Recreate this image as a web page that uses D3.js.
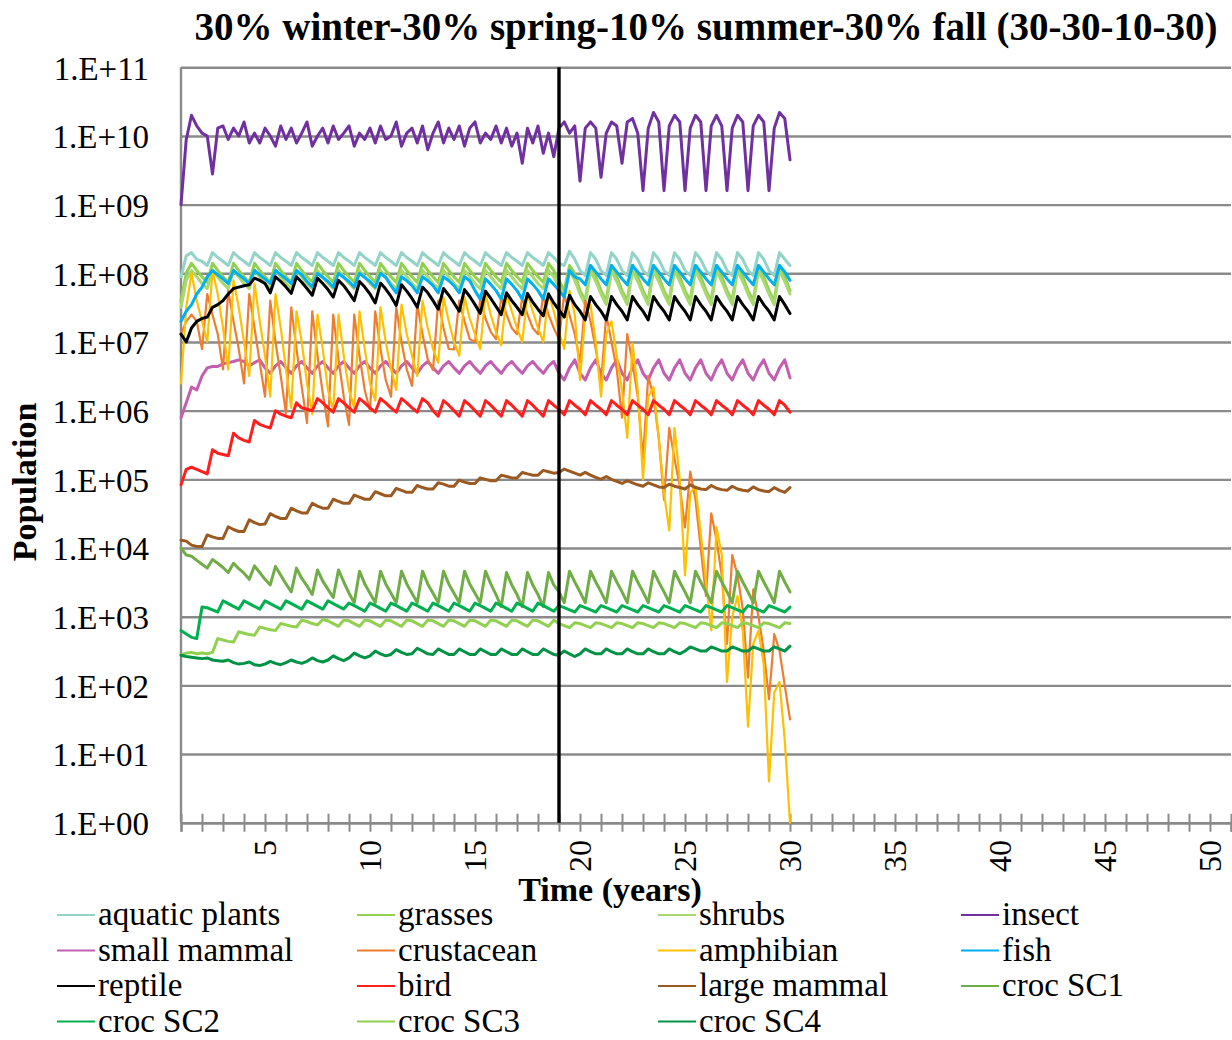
<!DOCTYPE html>
<html><head><meta charset="utf-8">
<script src="https://cdn.jsdelivr.net/npm/d3@7"></script>
<style>
body{margin:0;background:#fff}
svg{display:block}
text{font-family:"Liberation Serif","Times New Roman",serif;fill:#000}
</style>
</head><body>
<svg id="chart" width="1232" height="1040"></svg>
<script>
// ---- time points (years), quarterly ----
const years = [1,1.25,1.5,1.75,2,2.25,2.5,2.75,3,3.25,3.5,3.75,4,4.25,4.5,4.75,5,5.25,5.5,5.75,6,6.25,6.5,6.75,7,7.25,7.5,7.75,8,8.25,8.5,8.75,9,9.25,9.5,9.75,10,10.25,10.5,10.75,11,11.25,11.5,11.75,12,12.25,12.5,12.75,13,13.25,13.5,13.75,14,14.25,14.5,14.75,15,15.25,15.5,15.75,16,16.25,16.5,16.75,17,17.25,17.5,17.75,18,18.25,18.5,18.75,19,19.25,19.5,19.75,20,20.25,20.5,20.75,21,21.25,21.5,21.75,22,22.25,22.5,22.75,23,23.25,23.5,23.75,24,24.25,24.5,24.75,25,25.25,25.5,25.75,26,26.25,26.5,26.75,27,27.25,27.5,27.75,28,28.25,28.5,28.75,29,29.25,29.5,29.75,30];

const aquaticPlants = [8.9e7,1.8e8,2e8,1.6e8,
1.5e8,1.3e8,2e8,1.7e8, 1.5e8,1.3e8,2e8,1.7e8, 1.5e8,1.3e8,2e8,1.7e8, 1.5e8,1.3e8,2e8,1.7e8,
1.5e8,1.3e8,2e8,1.7e8, 1.5e8,1.3e8,2e8,1.7e8, 1.5e8,1.3e8,2e8,1.7e8, 1.5e8,1.3e8,2e8,1.7e8,
1.5e8,1.3e8,2e8,1.7e8, 1.5e8,1.3e8,2e8,1.7e8, 1.5e8,1.3e8,2e8,1.7e8, 1.5e8,1.3e8,2e8,1.7e8,
1.5e8,1.3e8,2e8,1.7e8, 1.5e8,1.3e8,2e8,1.7e8, 1.5e8,1.3e8,2e8,1.7e8, 1.5e8,1.3e8,2e8,1.7e8,
1.5e8,1.3e8,2e8,1.7e8, 1.4e8,1.3e8,2.1e8,1.6e8,
1.1e8,9.3e7,2e8,1.6e8, 1.1e8,9.3e7,2e8,1.6e8, 1.1e8,9.3e7,2e8,1.6e8, 1.1e8,9.3e7,2e8,1.6e8,
1.1e8,9.3e7,2e8,1.6e8, 1.1e8,9.3e7,2e8,1.6e8, 1.1e8,9.3e7,2e8,1.6e8, 1.1e8,9.3e7,2e8,1.6e8,
1.1e8,9.3e7,2e8,1.6e8, 1.1e8,9.3e7,2e8,1.6e8, 1.3e8];

const grasses = [4e7,1e8,1.4e8,1.1e8,
8.9e7,7.4e7,1.4e8,1.1e8, 8.9e7,7.4e7,1.4e8,1.1e8, 8.9e7,7.4e7,1.4e8,1.1e8, 8.9e7,7.4e7,1.4e8,1.1e8,
8.9e7,7.4e7,1.4e8,1.1e8, 8.9e7,7.4e7,1.4e8,1.1e8, 8.9e7,7.4e7,1.4e8,1.1e8, 8.9e7,7.4e7,1.4e8,1.1e8,
8.9e7,7.4e7,1.4e8,1.1e8, 8.9e7,7.4e7,1.4e8,1.1e8, 8.9e7,7.4e7,1.4e8,1.1e8, 8.9e7,7.4e7,1.4e8,1.1e8,
8.9e7,7.4e7,1.4e8,1.1e8, 8.9e7,7.4e7,1.4e8,1.1e8, 8.9e7,7.4e7,1.4e8,1.1e8, 8.9e7,7.4e7,1.4e8,1.1e8,
8.9e7,7.4e7,1.4e8,1.1e8, 7.9e7,5.6e7,1.3e8,1e8,
5.6e7,4e7,1.3e8,8.9e7, 5.6e7,4e7,1.3e8,8.9e7, 5.6e7,4e7,1.3e8,8.9e7, 5.6e7,4e7,1.3e8,8.9e7,
5.6e7,4e7,1.3e8,8.9e7, 5.6e7,4e7,1.3e8,8.9e7, 5.6e7,4e7,1.3e8,8.9e7, 5.6e7,4e7,1.3e8,8.9e7,
5.6e7,4e7,1.3e8,8.9e7, 5.6e7,4e7,1.3e8,8.9e7, 5.6e7];

const shrubs = [3.2e7,7.9e7,1.1e8,8.9e7,
7.1e7,6e7,1.1e8,8.9e7, 7.1e7,6e7,1.1e8,8.9e7, 7.1e7,6e7,1.1e8,8.9e7, 7.1e7,6e7,1.1e8,8.9e7,
7.1e7,6e7,1.1e8,8.9e7, 7.1e7,6e7,1.1e8,8.9e7, 7.1e7,6e7,1.1e8,8.9e7, 7.1e7,6e7,1.1e8,8.9e7,
7.1e7,6e7,1.1e8,8.9e7, 7.1e7,6e7,1.1e8,8.9e7, 7.1e7,6e7,1.1e8,8.9e7, 7.1e7,6e7,1.1e8,8.9e7,
7.1e7,6e7,1.1e8,8.9e7, 7.1e7,6e7,1.1e8,8.9e7, 7.1e7,6e7,1.1e8,8.9e7, 7.1e7,6e7,1.1e8,8.9e7,
7.1e7,6e7,1.1e8,8.9e7, 6.3e7,4.8e7,1.1e8,7.9e7,
5e7,3.5e7,1.1e8,7.6e7, 5e7,3.5e7,1.1e8,7.6e7, 5e7,3.5e7,1.1e8,7.6e7, 5e7,3.5e7,1.1e8,7.6e7,
5e7,3.5e7,1.1e8,7.6e7, 5e7,3.5e7,1.1e8,7.6e7, 5e7,3.5e7,1.1e8,7.6e7, 5e7,3.5e7,1.1e8,7.6e7,
5e7,3.5e7,1.1e8,7.6e7, 5e7,3.5e7,1.1e8,7.6e7, 5e7];

const insect = [1e9,8.9e9,2e10,1.4e10,
1.1e10,1e10,2.8e9,1.3e10, 1.4e10,8.9e9,1.3e10,1e10, 1.6e10,7.9e9,1.1e10,7.9e9, 1.3e10,1e10,7.1e9,1.4e10,
8.9e9,1.3e10,7.9e9,1.1e10, 1.6e10,7.1e9,1e10,1.3e10, 7.9e9,1.4e10,8.9e9,1.1e10, 1.4e10,7.1e9,1.1e10,8.9e9,
1.3e10,7.9e9,1.4e10,8.9e9, 1e10,1.6e10,7.1e9,1.1e10, 1.3e10,7.9e9,1.4e10,6.3e9, 1.1e10,1.6e10,7.9e9,1.3e10,
8.9e9,1.4e10,7.1e9,1.3e10, 1.6e10,7.9e9,1.1e10,8.9e9, 1.4e10,7.9e9,1.3e10,7.1e9, 1.1e10,4e9,1.3e10,7.9e9,
1.4e10,5.6e9,1.1e10,5e9, 1.3e10,1.6e10,1.1e10,1.4e10,
2.2e9,1.3e10,1.6e10,1.3e10, 2.5e9,1.1e10,1.6e10,1.4e10, 4e9,1.6e10,1.8e10,1.1e10, 1.6e9,1.3e10,2.2e10,1.6e10,
1.6e9,1.4e10,2e10,1.6e10, 1.6e9,1.3e10,2e10,1.6e10, 1.6e9,1.4e10,2e10,1.4e10, 1.6e9,1.3e10,2e10,1.6e10,
1.6e9,1.4e10,2e10,1.6e10, 1.6e9,1.3e10,2.2e10,1.8e10, 4.5e9];

const smallMammal = [7.9e5,1.3e6,2.2e6,2e6,
3.2e6,4.2e6,4.4e6,4.4e6, 4.8e6,5e6,5.2e6,5.5e6, 5.2e6,4.5e6,5e6,5.5e6, 4.2e6,3.5e6,4.5e6,5.2e6,
4.2e6,3.5e6,4.5e6,5.2e6, 4.2e6,3.5e6,4.5e6,5.2e6, 4.2e6,3.5e6,4.5e6,5.2e6, 4.2e6,3.5e6,4.5e6,5.2e6,
4.2e6,3.5e6,4.5e6,5.2e6, 4.2e6,3.5e6,4.5e6,5.2e6, 4.2e6,3.5e6,4.5e6,5.2e6, 4.2e6,3.5e6,4.5e6,5.2e6,
4.2e6,3.5e6,4.5e6,5.2e6, 4.2e6,3.5e6,4.5e6,5.2e6, 4.2e6,3.5e6,4.5e6,5.2e6, 4.2e6,3.5e6,4.5e6,5.2e6,
4.2e6,3.5e6,4.5e6,5.2e6, 3.5e6,2.8e6,4.2e6,5.5e6,
3.5e6,2.8e6,4.2e6,5.5e6, 3.5e6,2.8e6,4.2e6,5.5e6, 3.5e6,2.8e6,4.2e6,5.5e6, 3.5e6,2.8e6,4.2e6,5.5e6,
3.5e6,2.8e6,4.2e6,5.5e6, 3.5e6,2.8e6,4.2e6,5.5e6, 3.5e6,2.8e6,4.2e6,5.5e6, 3.5e6,2.8e6,4.2e6,5.5e6,
3.5e6,2.8e6,4.2e6,5.5e6, 3.5e6,2.8e6,4.2e6,5.5e6, 3e6];

const crustacean = [1.3e7,2e7,2.5e7,2e7,
7.9e6,5e7,2.5e7,1.3e7, 4e6,5.6e7,2e7,7.9e6, 2.5e6,5e7,1.6e7,5e6, 1.6e6,4e7,1e7,3.2e6,
9.1e5,3.2e7,7.9e6,2.2e6, 6.6e5,2.8e7,6.3e6,1.8e6, 5.9e5,2.5e7,5.6e6,1.6e6, 6.2e5,2.5e7,6.3e6,2e6,
1e6,2.8e7,7.9e6,2.8e6, 1.6e6,3.2e7,1e7,4e6, 2.3e6,3.5e7,1.3e7,5.6e6, 3.9e6,4e7,1.6e7,7.9e6,
7.8e6,4e7,2e7,1.1e7, 1e7,4.2e7,2.2e7,1.4e7, 1.1e7,4.5e7,2.5e7,1.6e7, 1.3e7,4.5e7,2.5e7,1.6e7,
1.3e7,4.8e7,2.5e7,1.6e7, 1.1e7,5e7,2.5e7,1.3e7,
5e6,4e7,2e7,7.9e6, 2.5e6,2.5e7,1e7,4e6, 7.9e5,1.3e7,5e6,1.6e6, 2e5,3.2e6,1.6e6,4e5,
5e4,5.6e5,2e5,7.9e4, 2e4,1.3e5,5e4,1e4, 2e3,3.2e4,1.3e4,4e3, 400,7.9e3,4e3,1.3e3,
130,2.5e3,1e3,320, 63,560,320,100, 32];

const amphibian = [2.5e6,3.2e7,1e8,4e7,
2e7,1e7,1.1e8,5e7, 1.6e7,4e6,7.9e7,3.2e7, 1e7,3.2e6,7.1e7,2e7, 6.3e6,1.6e6,5e7,1.6e7,
4e6,1.1e6,2.8e7,1e7, 2.5e6,8.9e5,2.5e7,7.9e6, 2e6,1e6,2.5e7,6.3e6, 2e6,1.1e6,2.8e7,7.9e6,
2.5e6,1.4e6,3.2e7,1e7, 4e6,2e6,3.5e7,1.3e7, 6.3e6,3.2e6,4e7,1.6e7, 7.9e6,5e6,4.5e7,2e7,
1e7,6.3e6,4.5e7,2.2e7, 1.3e7,7.9e6,5e7,2.5e7, 1.4e7,8.9e6,5e7,2.8e7, 1.6e7,1e7,5e7,2.8e7,
1.6e7,1e7,5.2e7,2.8e7, 1.4e7,7.9e6,5.6e7,2.5e7,
2.8e6,2.5e7,3.5e7,1e7, 1.6e6,1.3e7,2e7,6.3e6, 2e6,4e5,9.5e6,2e6, 1e5,1.6e6,2.2e6,4e5,
6.3e4,1.8e4,5.6e5,1e5, 4e3,6.3e4,7.9e4,1.6e4, 3.2e3,630,2e4,7.9e3, 112,1e3,2e3,630,
25,400,630,200, 4,79,112,16, 1];

const fish = [2e7,2.8e7,3.5e7,5e7,
6.3e7,8.9e7,1.1e8,9.5e7, 8.3e7,7.1e7,1.1e8,9.5e7, 8.3e7,7.1e7,1.1e8,9.5e7, 8.3e7,7.1e7,1.1e8,9.5e7,
8.3e7,7.1e7,1.1e8,9.5e7, 7.6e7,6.3e7,1e8,8.7e7, 7.6e7,6.3e7,1e8,8.7e7, 7.6e7,6.3e7,1e8,8.7e7,
7.6e7,6.3e7,1e8,8.7e7, 6.6e7,5.2e7,8.9e7,7.8e7, 6.6e7,5.2e7,8.9e7,7.8e7, 6.6e7,5.2e7,8.9e7,7.8e7,
6.6e7,5.2e7,8.9e7,7.8e7, 5.6e7,4.2e7,8.3e7,6.9e7, 5.6e7,4.2e7,8.3e7,6.9e7, 5.6e7,4.2e7,8.3e7,6.9e7,
5.6e7,4.2e7,8.3e7,6.9e7, 5.6e7,4.5e7,1.1e8,8.9e7,
8.3e7,6.8e7,1.3e8,1.05e8, 8.3e7,6.8e7,1.3e8,1.05e8, 8.3e7,6.8e7,1.3e8,1.05e8, 8.3e7,6.8e7,1.3e8,1.05e8,
8.3e7,6.8e7,1.3e8,1.05e8, 8.3e7,6.8e7,1.3e8,1.05e8, 8.3e7,6.8e7,1.3e8,1.05e8, 8.3e7,6.8e7,1.3e8,1.05e8,
8.3e7,6.8e7,1.3e8,1.05e8, 8.3e7,6.8e7,1.3e8,1.05e8, 7.9e7];

const reptile = [1.3e7,1e7,1.6e7,2e7,
2.2e7,2.3e7,3.2e7,3.5e7, 4e7,5e7,6e7,6.3e7, 6.6e7,6.8e7,8.5e7,7.9e7, 7.1e7,5.2e7,8.9e7,7.6e7,
6.3e7,5.1e7,8.9e7,7.4e7, 6e7,4.8e7,8.5e7,7.1e7, 5.8e7,4.5e7,7.9e7,6.6e7, 5.2e7,4e7,7.6e7,6.3e7,
5e7,3.7e7,7.2e7,5.9e7, 4.6e7,3.4e7,6.8e7,5.5e7, 4.3e7,3.2e7,6.3e7,5.2e7, 4e7,3e7,6e7,4.8e7,
3.7e7,2.8e7,5.8e7,4.6e7, 3.5e7,2.6e7,5.5e7,4.3e7, 3.3e7,2.5e7,5.2e7,4e7, 3.2e7,2.5e7,5.1e7,3.8e7,
3e7,2.4e7,5e7,3.7e7, 2.9e7,2.3e7,4.8e7,3.5e7,
2.8e7,2.1e7,4.6e7,3.5e7, 2.8e7,2.1e7,4.6e7,3.5e7, 2.8e7,2.1e7,4.6e7,3.5e7, 2.8e7,2.1e7,4.6e7,3.5e7,
2.8e7,2.1e7,4.6e7,3.5e7, 2.8e7,2.1e7,4.6e7,3.5e7, 2.8e7,2.1e7,4.6e7,3.5e7, 2.8e7,2.1e7,4.6e7,3.5e7,
2.8e7,2.1e7,4.6e7,3.5e7, 2.8e7,2.1e7,4.6e7,3.5e7, 2.6e7];

const bird = [8.3e4,1.4e5,1.5e5,1.4e5,
1.3e5,1.2e5,2.7e5,2.4e5, 2.3e5,2.2e5,4.7e5,4e5, 3.7e5,3.5e5,7.2e5,6.3e5, 5.9e5,5.6e5,1e6,8.9e5,
8.3e5,7.9e5,1.3e6,1.1e6, 1.05e6,1e6,1.5e6,1.3e6, 1.1e6,9.5e5,1.5e6,1.3e6, 1.1e6,9.5e5,1.5e6,1.3e6,
1.1e6,9.5e5,1.5e6,1.3e6, 1.1e6,9.5e5,1.5e6,1.3e6, 1.1e6,9.5e5,1.5e6,1.3e6, 1e6,8.3e5,1.4e6,1.2e6,
1e6,8.3e5,1.4e6,1.2e6, 1e6,8.3e5,1.4e6,1.2e6, 1e6,8.3e5,1.4e6,1.2e6, 1e6,8.3e5,1.4e6,1.2e6,
1e6,8.3e5,1.4e6,1.2e6, 1.05e6,8.7e5,1.4e6,1.2e6,
1.05e6,8.7e5,1.4e6,1.2e6, 1.05e6,8.7e5,1.4e6,1.2e6, 1.05e6,8.7e5,1.4e6,1.2e6, 1.05e6,8.7e5,1.4e6,1.2e6,
1.05e6,8.7e5,1.4e6,1.2e6, 1.05e6,8.7e5,1.4e6,1.2e6, 1.05e6,8.7e5,1.4e6,1.2e6, 1.05e6,8.7e5,1.4e6,1.2e6,
1.05e6,8.7e5,1.4e6,1.2e6, 1.05e6,8.7e5,1.4e6,1.2e6, 9.5e5];

const largeMammal = [1.3e4,1.26e4,1.1e4,1.05e4,
1.05e4,1.55e4,1.45e4,1.38e4, 1.38e4,2.04e4,1.86e4,1.74e4, 1.74e4,2.57e4,2.34e4,2.19e4, 2.24e4,3.16e4,2.88e4,2.69e4,
2.69e4,3.8e4,3.47e4,3.24e4, 3.24e4,4.47e4,4.07e4,3.8e4, 3.8e4,5.13e4,4.79e4,4.47e4, 4.47e4,5.89e4,5.5e4,5.13e4,
5.13e4,6.61e4,6.17e4,5.75e4, 5.75e4,7.41e4,6.92e4,6.46e4, 6.46e4,8.13e4,7.59e4,7.24e4, 7.24e4,8.91e4,8.51e4,7.94e4,
7.94e4,9.77e4,9.12e4,8.71e4, 8.71e4,1.05e5,1e5,9.55e4, 9.55e4,1.15e5,1.1e5,1.05e5, 1.05e5,1.26e5,1.2e5,1.15e5,
1.15e5,1.35e5,1.29e5,1.23e5, 1.26e5,1.41e5,1.32e5,1.23e5,
1.15e5,1.26e5,1.15e5,1.07e5, 1e5,1.1e5,1e5,9.33e4, 8.71e4,9.55e4,8.91e4,8.32e4, 7.94e4,8.91e4,8.32e4,7.76e4,
7.59e4,8.51e4,7.94e4,7.59e4, 7.24e4,8.32e4,7.59e4,7.24e4, 7.08e4,8.13e4,7.41e4,7.08e4, 6.92e4,7.94e4,7.24e4,6.92e4,
6.76e4,7.76e4,7.08e4,6.76e4, 6.61e4,7.59e4,6.92e4,6.46e4, 7.59e4];

const crocSC1 = [1e4,7.9e3,7.6e3,6.6e3,
5.8e3,5.1e3,6.8e3,6e3, 5.2e3,4.4e3,6e3,5e3, 4.3e3,3.5e3,5.5e3,4.4e3, 3.5e3,2.9e3,5.4e3,4e3,
3e3,2.3e3,5.1e3,3.6e3, 2.8e3,2.1e3,4.8e3,3.3e3, 2.5e3,1.9e3,4.8e3,3.2e3, 2.2e3,1.6e3,4.6e3,3e3,
2.2e3,1.6e3,4.6e3,3e3, 2.2e3,1.6e3,4.6e3,3e3, 2.2e3,1.6e3,4.6e3,3e3, 2.2e3,1.6e3,4.6e3,3e3,
2.2e3,1.6e3,4.6e3,3e3, 2.2e3,1.6e3,4.6e3,3e3, 2.1e3,1.4e3,4.4e3,2.9e3, 2.1e3,1.4e3,4.4e3,2.9e3,
2.1e3,1.4e3,4.4e3,2.9e3, 2.3e3,1.6e3,4.6e3,3.2e3,
2.3e3,1.6e3,4.6e3,3.2e3, 2.3e3,1.6e3,4.6e3,3.2e3, 2.3e3,1.6e3,4.6e3,3.2e3, 2.3e3,1.6e3,4.6e3,3.2e3,
2.3e3,1.6e3,4.6e3,3.2e3, 2.3e3,1.6e3,4.6e3,3.2e3, 2.3e3,1.6e3,4.6e3,3.2e3, 2.3e3,1.6e3,4.6e3,3.2e3,
2.3e3,1.6e3,4.6e3,3.2e3, 2.3e3,1.6e3,4.6e3,3.2e3, 2.3e3];

const crocSC2 = [630,560,500,480,
1380,1350,1260,1170, 1700,1550,1410,1290, 1700,1550,1410,1290, 1700,1550,1410,1290,
1700,1550,1410,1290, 1700,1550,1410,1290, 1700,1550,1410,1290, 1580,1450,1320,1200,
1580,1450,1320,1200, 1580,1450,1320,1200, 1580,1450,1320,1200, 1580,1450,1320,1200,
1580,1450,1320,1200, 1580,1450,1320,1200, 1580,1450,1320,1200, 1580,1450,1320,1200,
1580,1450,1320,1200, 1450,1350,1260,1170,
1450,1350,1260,1170, 1450,1350,1260,1170, 1450,1350,1260,1170, 1450,1350,1260,1170,
1450,1350,1260,1170, 1450,1350,1260,1170, 1450,1350,1260,1170, 1450,1350,1260,1170,
1450,1350,1260,1170, 1450,1350,1260,1170, 1380];

const crocSC3 = [280,295,302,288,
295,288,302,480, 457,437,427,603, 575,550,537,708, 676,646,631,794,
759,724,708,891, 851,794,759,912, 871,794,724,891, 871,794,724,891,
871,794,724,891, 871,794,724,891, 871,794,724,891, 871,794,724,891,
871,794,724,891, 871,794,724,891, 871,794,724,891, 871,794,724,891,
871,794,724,891, 794,741,692,813,
794,741,692,813, 794,741,692,813, 794,741,692,813, 794,741,692,813,
794,741,692,813, 794,741,692,813, 794,741,692,813, 794,741,692,813,
794,741,692,813, 794,741,692,813, 794];

const crocSC4 = [275,263,257,251,
245,251,234,229, 224,234,214,204, 209,219,200,195, 204,224,209,200,
214,234,219,209, 224,251,229,219, 234,269,245,229, 251,295,269,251,
269,316,288,269, 282,331,302,282, 288,347,316,288, 282,339,309,282,
282,339,309,282, 282,339,309,282, 282,339,309,282, 282,339,309,282,
282,339,309,282, 275,316,288,263,
288,339,309,288, 288,339,309,288, 288,339,309,288, 288,339,309,288,
288,339,309,288, 316,363,339,316, 316,363,339,316, 316,363,339,316,
316,363,339,316, 316,363,339,316, 372];

const seriesNames = ["aquatic plants","grasses","shrubs","insect","small mammal","crustacean","amphibian","fish","reptile","bird","large mammal","croc SC1","croc SC2","croc SC3","croc SC4"];
const seriesValues = [aquaticPlants,grasses,shrubs,insect,smallMammal,crustacean,amphibian,fish,reptile,bird,largeMammal,crocSC1,crocSC2,crocSC3,crocSC4];
const seriesColors = ["#93D3C8","#92D050","#A9D86E","#7030A0","#C25FB0","#ED7D31","#FFC000","#00B0F0","#000000","#FF1F1F","#9A5A22","#70AD47","#00B050","#92D050","#009245"];
const seriesWidths = [3,3,3,3,3,2.2,2.2,3,3,3,3,3,3,3,3];

const yTickValues = [1,1e1,1e2,1e3,1e4,1e5,1e6,1e7,1e8,1e9,1e10,1e11];
const yTickLabels = ["1.E+00","1.E+01","1.E+02","1.E+03","1.E+04","1.E+05","1.E+06","1.E+07","1.E+08","1.E+09","1.E+10","1.E+11"];
const xTickLabels = [5,10,15,20,25,30,35,40,45,50];
const xDomain = [1,51];
const markerYear = 19;

const titleText = "30% winter-30% spring-10% summer-30% fall (30-30-10-30)";
const xTitle = "Time (years)";
const yTitle = "Population";

// ---- layout ----
const M = {left:181, right:1231, top:67.3, bottom:822.7};
const svg = d3.select("#chart");
const x = d3.scaleLinear().domain(xDomain).range([M.left, M.right]);
const y = d3.scaleLog().domain([1,1e11]).range([M.bottom, M.top]);
const gridColor = "#8a8a8a";

// gridlines + y labels
const yAxis = svg.append("g").attr("transform",`translate(${M.left},0)`)
  .call(d3.axisLeft(y).tickValues(yTickValues).tickFormat((d,i)=>yTickLabels[i]).tickSize(-(M.right-M.left)).tickPadding(32));
yAxis.select(".domain").remove();
yAxis.selectAll(".tick line").attr("stroke",gridColor).attr("stroke-width",2.4);
yAxis.selectAll(".tick text").attr("font-size",33).attr("font-family","Liberation Serif").attr("fill","#000").attr("dy","0.36em");

// left axis line
svg.append("line").attr("x1",M.left).attr("x2",M.left).attr("y1",M.top).attr("y2",M.bottom)
  .attr("stroke",gridColor).attr("stroke-width",2.4);

// x axis
const xAxis = svg.append("g").attr("transform",`translate(0,${M.bottom})`)
  .call(d3.axisBottom(x).tickValues(d3.range(xDomain[0],xDomain[1]+1)).tickSize(9).tickFormat(""));
xAxis.select(".domain").attr("stroke",gridColor).attr("stroke-width",2.4);
xAxis.selectAll(".tick line").attr("stroke",gridColor).attr("stroke-width",2).attr("y1",-9);

svg.append("g").selectAll("text").data(xTickLabels).join("text")
  .attr("transform",d=>`translate(${x(d)},840) rotate(-90)`)
  .attr("text-anchor","end").attr("dominant-baseline","central")
  .attr("font-size",32).text(d=>d);

// series
const line = d3.line().x((d,i)=>x(years[i])).y(d=>y(d));
const gLines = svg.append("g").attr("fill","none").attr("stroke-linejoin","round").attr("stroke-linecap","round");
seriesValues.forEach((vals,k)=>{
  gLines.append("path").datum(vals).attr("d",line)
    .attr("stroke",seriesColors[k]).attr("stroke-width",seriesWidths[k]);
});

// vertical marker
svg.append("line").attr("x1",x(markerYear)).attr("x2",x(markerYear))
  .attr("y1",y(1e11)).attr("y2",y(1)).attr("stroke","#000").attr("stroke-width",3.4);

// titles
svg.append("text").attr("x",706).attr("y",40).attr("text-anchor","middle")
  .attr("font-size",39).attr("font-weight","bold").text(titleText);
svg.append("text").attr("x",610).attr("y",901).attr("text-anchor","middle")
  .attr("font-size",34).attr("font-weight","bold").text(xTitle);
svg.append("text").attr("transform","translate(36,482) rotate(-90)").attr("text-anchor","middle")
  .attr("font-size",34).attr("font-weight","bold").text(yTitle);

// legend (4 columns)
const legCols = [57,357,658,961];
const legend = svg.append("g");
seriesNames.forEach((name,i)=>{
  const col = i%4, row = Math.floor(i/4);
  const lx = legCols[col], ly = 925 + row*35.5;
  legend.append("line").attr("x1",lx).attr("x2",lx+38).attr("y1",ly-10).attr("y2",ly-10)
    .attr("stroke",seriesColors[i]).attr("stroke-width",2.2);
  legend.append("text").attr("x",lx+41).attr("y",ly).attr("font-size",33).text(name);
});
</script>
</body></html>
